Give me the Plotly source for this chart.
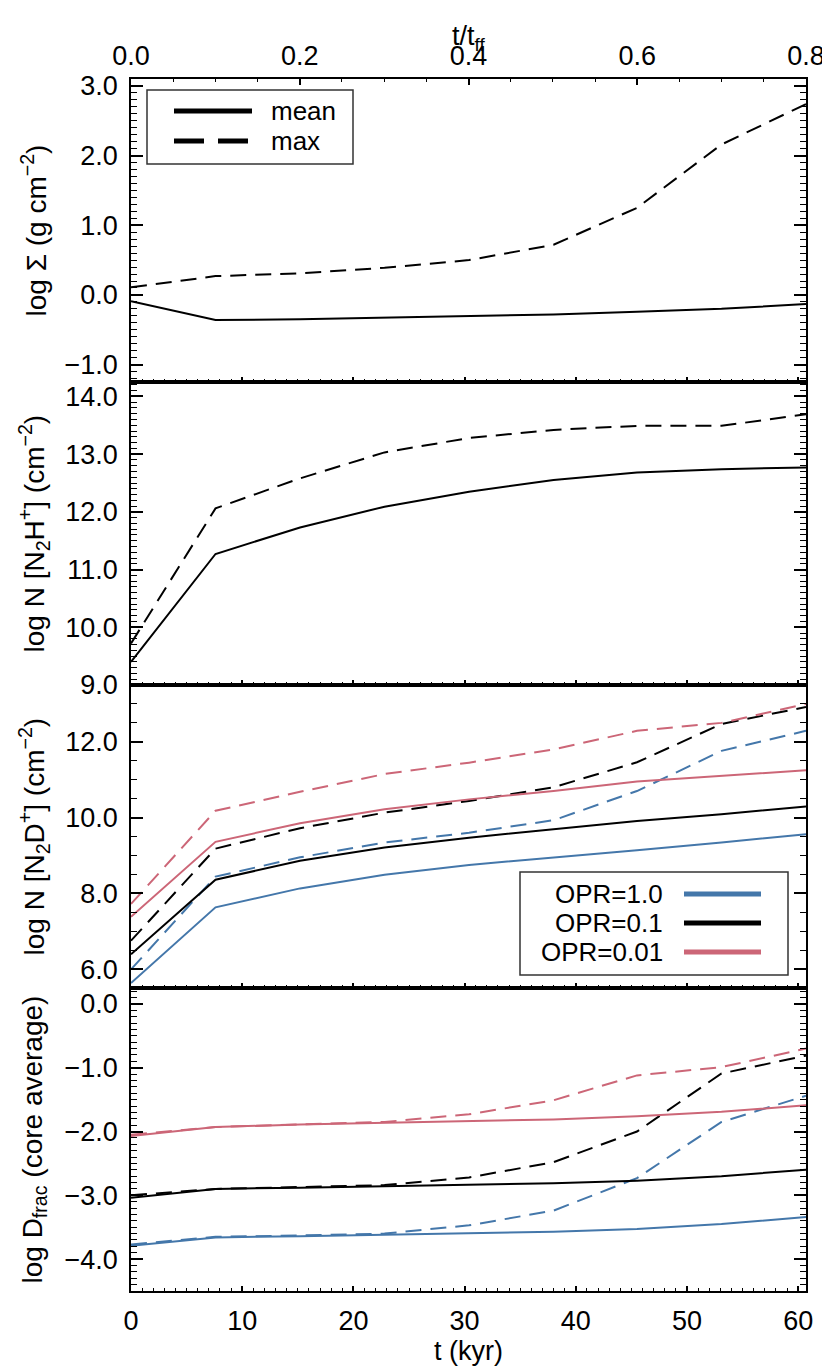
import plotly.graph_objects as go
from plotly.subplots import make_subplots

# time grid (kyr); top axis is the same grid in units of t/t_ff
t_kyr = [0.0, 7.6, 15.2, 22.8, 30.4, 38.0, 45.5, 53.1, 60.7]

# log Sigma (g cm^-2)
sigma_mean = [-0.09, -0.36, -0.35, -0.33, -0.31, -0.28, -0.24, -0.20, -0.13]
sigma_max = [0.11, 0.27, 0.31, 0.39, 0.50, 0.72, 1.25, 2.16, 2.74]

# log N[N2H+]
n2h_mean = [9.40, 11.27, 11.73, 12.09, 12.35, 12.55, 12.68, 12.74, 12.77]
n2h_max = [9.72, 12.06, 12.58, 13.03, 13.28, 13.42, 13.49, 13.49, 13.69]

# log N[N2D+] for OPR = 1.0, 0.1, 0.01
n2d_mean_opr1 = [5.63, 7.63, 8.13, 8.49, 8.75, 8.94, 9.14, 9.34, 9.56]
n2d_max_opr1 = [5.99, 8.44, 8.95, 9.34, 9.60, 9.93, 10.70, 11.76, 12.29]
n2d_mean_opr01 = [6.39, 8.36, 8.86, 9.21, 9.47, 9.69, 9.91, 10.09, 10.29]
n2d_max_opr01 = [6.75, 9.18, 9.72, 10.13, 10.44, 10.80, 11.46, 12.47, 12.92]
n2d_mean_opr001 = [7.38, 9.36, 9.85, 10.22, 10.48, 10.70, 10.95, 11.10, 11.25]
n2d_max_opr001 = [7.72, 10.18, 10.68, 11.15, 11.45, 11.80, 12.29, 12.50, 13.00]

# log D_frac (core average)
dfrac_mean_opr1 = [-3.79, -3.66, -3.64, -3.62, -3.60, -3.57, -3.53, -3.45, -3.34]
dfrac_max_opr1 = [-3.77, -3.65, -3.63, -3.60, -3.47, -3.24, -2.73, -1.85, -1.44]
dfrac_mean_opr01 = [-3.04, -2.90, -2.88, -2.86, -2.84, -2.81, -2.77, -2.70, -2.60]
dfrac_max_opr01 = [-3.00, -2.90, -2.87, -2.84, -2.72, -2.48, -2.00, -1.09, -0.81]
dfrac_mean_opr001 = [-2.07, -1.93, -1.89, -1.86, -1.83, -1.81, -1.76, -1.69, -1.59]
dfrac_max_opr001 = [-2.05, -1.93, -1.89, -1.85, -1.73, -1.51, -1.12, -0.99, -0.70]

opr_labels = ["OPR=1.0", "OPR=0.1", "OPR=0.01"]
opr_colors = ["#4477AA", "#000000", "#CC6677"]

FONT = "Liberation Sans, Arial, Helvetica, sans-serif"
W, H = 830, 1370
L, R, T, B = 123, 798, 71, 1283


def px(x):
    return (x - L) / (R - L)


def py(y):
    return (B - y) / (B - T)


fig = make_subplots(rows=4, cols=1, shared_xaxes=True, vertical_spacing=0)

dash = "16px,9px"
lw = 2

fig.add_trace(go.Scatter(x=t_kyr, y=sigma_mean, mode="lines",
                         line=dict(color="black", width=lw)), row=1, col=1)
fig.add_trace(go.Scatter(x=t_kyr, y=sigma_max, mode="lines",
                         line=dict(color="black", width=lw, dash=dash)), row=1, col=1)

fig.add_trace(go.Scatter(x=t_kyr, y=n2h_mean, mode="lines",
                         line=dict(color="black", width=lw)), row=2, col=1)
fig.add_trace(go.Scatter(x=t_kyr, y=n2h_max, mode="lines",
                         line=dict(color="black", width=lw, dash=dash)), row=2, col=1)

n2d = [(n2d_mean_opr1, n2d_max_opr1), (n2d_mean_opr01, n2d_max_opr01),
       (n2d_mean_opr001, n2d_max_opr001)]
dfr = [(dfrac_mean_opr1, dfrac_max_opr1), (dfrac_mean_opr01, dfrac_max_opr01),
       (dfrac_mean_opr001, dfrac_max_opr001)]

for row, sets in ((3, n2d), (4, dfr)):
    for (mean, mx), c in zip(sets, opr_colors):
        fig.add_trace(go.Scatter(x=t_kyr, y=mx, mode="lines",
                                 line=dict(color=c, width=lw, dash=dash)), row=row, col=1)
        fig.add_trace(go.Scatter(x=t_kyr, y=mean, mode="lines",
                                 line=dict(color=c, width=lw)), row=row, col=1)

tickfont = dict(family=FONT, size=27, color="black")

for i in range(1, 5):
    fig.update_xaxes(
        row=i, col=1,
        range=[0, 60.7], dtick=10, tick0=0,
        ticks="inside", ticklen=5, tickwidth=1.5, tickcolor="black",
        minor=dict(ticks="inside", ticklen=3, dtick=1, tickwidth=1.2, tickcolor="black"),
        showline=True, linewidth=1.5, linecolor="black", mirror=True,
        showgrid=False, zeroline=False,
        tickfont=tickfont, ticklabelstandoff=5,
        showticklabels=(i == 4),
    )

yspecs = [
    ([-1.25, 3.1], 1.0, 0.1),
    ([9.0, 14.25], 1.0, 0.1),
    ([5.5, 13.5], 2.0, 0.5),
    ([-4.5, 0.25], 1.0, 0.1),
]
for i, (rng, dt, mdt) in enumerate(yspecs, start=1):
    fig.update_yaxes(
        row=i, col=1,
        range=rng, dtick=dt, tick0=0, tickformat=".1f",
        ticks="inside", ticklen=12, tickwidth=1.5, tickcolor="black",
        minor=dict(ticks="inside", ticklen=6, dtick=mdt, tickwidth=1.2, tickcolor="black"),
        showline=True, linewidth=1.5, linecolor="black", mirror="ticks",
        showgrid=False, zeroline=False,
        tickfont=tickfont, ticklabelstandoff=6,
    )

# top axis in units of the free-fall time
fig.update_layout(xaxis5=dict(
    overlaying="x", anchor="y", side="top",
    range=[0, 0.8], dtick=0.2, tick0=0, tickformat=".1f",
    ticks="inside", ticklen=6, tickwidth=1.5, tickcolor="black",
    minor=dict(ticks="inside", ticklen=3, dtick=0.05, tickwidth=1.2, tickcolor="black"),
    showline=False, showgrid=False, zeroline=False,
    tickfont=tickfont, ticklabelstandoff=8,
))
fig.add_trace(go.Scatter(x=[0, 0.8], y=[None, None], xaxis="x5", yaxis="y",
                         mode="lines", hoverinfo="skip"))

titlefont = dict(family=FONT, size=28, color="black")
ytitles = [
    "log \u03a3 (g cm<sup>\u22122</sup>)",
    "log N [N<sub>2</sub>H<sup>+</sup>] (cm<sup>\u22122</sup>)",
    "log N [N<sub>2</sub>D<sup>+</sup>] (cm<sup>\u22122</sup>)",
    "log D<sub>frac</sub> (core average)",
]
annotations = []
for i, txt in enumerate(ytitles, start=1):
    yname = "y domain" if i == 1 else f"y{i} domain"
    annotations.append(dict(
        text=txt, textangle=-90, xref="paper", yref=yname, x=0, y=0.5,
        xanchor="center", yanchor="middle", xshift=-(L - 26), showarrow=False,
        font=titlefont,
    ))
annotations.append(dict(text="t (kyr)", xref="paper", yref="paper", x=0.5, y=0,
                        yshift=-(1343 - B), xanchor="center", yanchor="middle",
                        showarrow=False, font=dict(family=FONT, size=27, color="black")))
annotations.append(dict(text="t/t<sub>ff</sub>", xref="paper", yref="paper", x=0.5, y=1,
                        yshift=(T - 30), xanchor="center", yanchor="middle",
                        showarrow=False, font=dict(family=FONT, size=27, color="black")))

# legend: mean / max
legfont = dict(family=FONT, size=26, color="black")
shapes = [dict(type="rect", xref="paper", yref="paper",
               x0=px(139), x1=px(345), y0=py(82), y1=py(156),
               line=dict(color="#333333", width=1.5), fillcolor="white")]
shapes.append(dict(type="line", xref="paper", yref="paper",
                   x0=px(166), x1=px(244), y0=py(103), y1=py(103),
                   line=dict(color="black", width=5)))
shapes.append(dict(type="line", xref="paper", yref="paper",
                   x0=px(166), x1=px(244), y0=py(133), y1=py(133),
                   line=dict(color="black", width=5, dash="30px,14px")))
for txt, y in (("mean", 103), ("max", 133)):
    annotations.append(dict(text=txt, xref="paper", yref="paper", x=px(261), y=py(y),
                            xanchor="left", yanchor="middle", showarrow=False, font=legfont))

# legend: OPR values
shapes.append(dict(type="rect", xref="paper", yref="paper",
                   x0=px(512), x1=px(780), y0=py(864), y1=py(967),
                   line=dict(color="#333333", width=1.5), fillcolor="white"))
for txt, c, y in zip(opr_labels, opr_colors, (886, 915, 944)):
    shapes.append(dict(type="line", xref="paper", yref="paper",
                       x0=px(676), x1=px(753), y0=py(y), y1=py(y),
                       line=dict(color=c, width=5)))
    annotations.append(dict(text=txt, xref="paper", yref="paper", x=px(657), y=py(y),
                            xanchor="right", yanchor="middle", showarrow=False, font=legfont))

fig.update_layout(
    width=W, height=H,
    margin=dict(l=L, r=W - R, t=T, b=H - B),
    plot_bgcolor="white", paper_bgcolor="white",
    showlegend=False,
    annotations=annotations,
    shapes=shapes,
    font=dict(family=FONT, color="black"),
)

fig.write_html("out.html")
